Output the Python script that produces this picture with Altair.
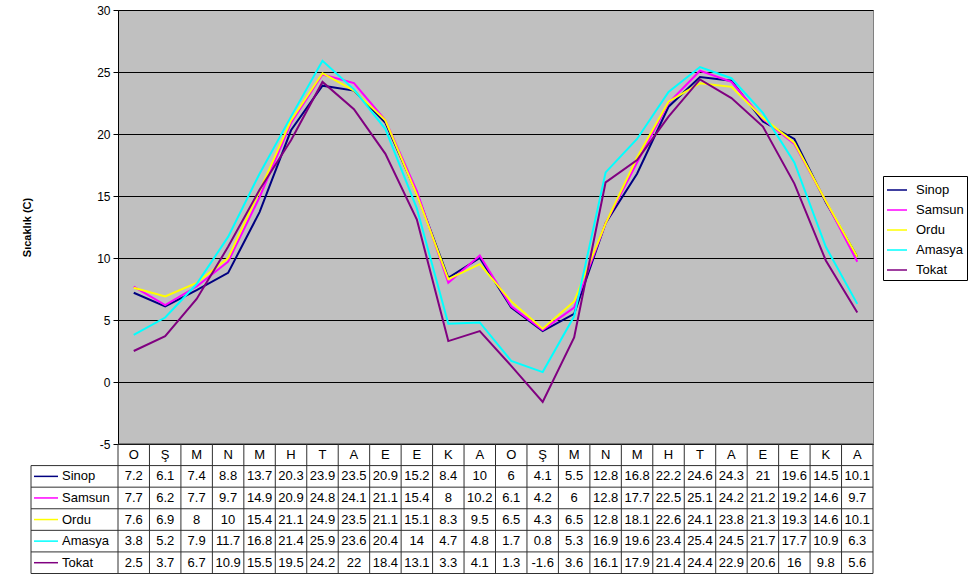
import altair as alt
import pandas as pd

# Monthly mean temperatures (C) for two consecutive years
months = ["O", "Ş", "M", "N", "M", "H", "T", "A", "E", "E", "K", "A",
          "O", "Ş", "M", "N", "M", "H", "T", "A", "E", "E", "K", "A"]
series_names = ["Sinop", "Samsun", "Ordu", "Amasya", "Tokat"]
series_colors = ["#000080", "#FF00FF", "#FFFF00", "#00FFFF", "#800080"]

sinop = [7.2, 6.1, 7.4, 8.8, 13.7, 20.3, 23.9, 23.5, 20.9, 15.2, 8.4, 10,
         6, 4.1, 5.5, 12.8, 16.8, 22.2, 24.6, 24.3, 21, 19.6, 14.5, 10.1]
samsun = [7.7, 6.2, 7.7, 9.7, 14.9, 20.9, 24.8, 24.1, 21.1, 15.4, 8, 10.2,
          6.1, 4.2, 6, 12.8, 17.7, 22.5, 25.1, 24.2, 21.2, 19.2, 14.6, 9.7]
ordu = [7.6, 6.9, 8, 10, 15.4, 21.1, 24.9, 23.5, 21.1, 15.1, 8.3, 9.5,
        6.5, 4.3, 6.5, 12.8, 18.1, 22.6, 24.1, 23.8, 21.3, 19.3, 14.6, 10.1]
amasya = [3.8, 5.2, 7.9, 11.7, 16.8, 21.4, 25.9, 23.6, 20.4, 14, 4.7, 4.8,
          1.7, 0.8, 5.3, 16.9, 19.6, 23.4, 25.4, 24.5, 21.7, 17.7, 10.9, 6.3]
tokat = [2.5, 3.7, 6.7, 10.9, 15.5, 19.5, 24.2, 22, 18.4, 13.1, 3.3, 4.1,
         1.3, -1.6, 3.6, 16.1, 17.9, 21.4, 24.4, 22.9, 20.6, 16, 9.8, 5.6]
series_values = [sinop, samsun, ordu, amasya, tokat]

y_ticks = [-5, 0, 5, 10, 15, 20, 25, 30]

# Layout
W, H = 755, 434
NCOL = len(months)
COLW = W / NCOL
LABEL_COL_PX = 87                      # width of the series-name column
XL = -0.5 - LABEL_COL_PX / COLW        # left edge of the name column (x units)
TABLE_TOP, TABLE_BOTTOM = H, H + 129.5
FONT = "Liberation Sans"
GRID = "#303030"
TABLE_FS = 13

xscale = alt.Scale(domain=[-0.5, NCOL - 0.5], nice=False, zero=False)
rscale = alt.Scale(domain=[0, 6], range=[TABLE_TOP, TABLE_BOTTOM], nice=False, zero=False)

# Long table of values
rows = []
for name, vals in zip(series_names, series_values):
    for i, v in enumerate(vals):
        rows.append({"series": name, "i": i, "v": v})
df = pd.DataFrame(rows)
df["r"] = df["series"].map({n: k + 1.5 for k, n in enumerate(series_names)})
df["label"] = df["v"].map(lambda v: f"{v:g}")

color = alt.Color(
    "series:N",
    scale=alt.Scale(domain=series_names, range=series_colors),
    legend=alt.Legend(
        title=None, orient="none", legendX=765, legendY=166,
        symbolType="stroke", symbolSize=400, symbolStrokeWidth=1.5,
        labelFont=FONT, labelFontSize=13, labelColor="black",
        rowPadding=2, padding=3, strokeColor="black", fillColor="white",
        labelOffset=8,
    ),
)

lines = alt.Chart(df).mark_line(strokeWidth=2).encode(
    x=alt.X("i:Q", scale=xscale, axis=None),
    y=alt.Y(
        "v:Q",
        scale=alt.Scale(domain=[-5, 30], nice=False, zero=False),
        axis=alt.Axis(
            values=y_ticks, grid=True, gridColor="black", gridOpacity=1,
            domainColor="black", tickColor="black", tickSize=5,
            labelFont=FONT, labelFontSize=12, labelColor="black", labelPadding=3,
            labelExpr="replace(datum.label, '\u2212', '-')",
            title="Sıcaklık (C)", titleFont=FONT, titleFontSize=11,
            titleFontWeight="bold", titleColor="black", titlePadding=64,
        ),
    ),
    color=color,
    order=alt.Order("i:Q"),
)

# Data table below the plot
hdf = pd.DataFrame({"i": list(range(NCOL)), "m": months, "r": [0.5] * NCOL})
header = alt.Chart(hdf).mark_text(font=FONT, fontSize=TABLE_FS, color="black", baseline="middle").encode(
    x=alt.X("i:Q", scale=xscale, axis=None),
    y=alt.Y("r:Q", scale=rscale, axis=None),
    text="m:N",
)
cells = alt.Chart(df).mark_text(font=FONT, fontSize=TABLE_FS, color="black", baseline="middle").encode(
    x=alt.X("i:Q", scale=xscale, axis=None),
    y=alt.Y("r:Q", scale=rscale, axis=None),
    text="label:N",
)

name_df = pd.DataFrame({
    "series": series_names,
    "r": [k + 1.5 for k in range(len(series_names))],
    "x": [XL + 3 / COLW] * len(series_names),
    "x2": [XL + 27 / COLW] * len(series_names),
    "xt": [XL + 31 / COLW] * len(series_names),
})
keys = alt.Chart(name_df).mark_rule(strokeWidth=1.5).encode(
    x=alt.X("x:Q", scale=xscale, axis=None),
    x2="x2:Q",
    y=alt.Y("r:Q", scale=rscale, axis=None),
    color=alt.Color("series:N", scale=alt.Scale(domain=series_names, range=series_colors), legend=None),
)
names = alt.Chart(name_df).mark_text(font=FONT, fontSize=TABLE_FS, color="black", align="left", baseline="middle").encode(
    x=alt.X("xt:Q", scale=xscale, axis=None),
    y=alt.Y("r:Q", scale=rscale, axis=None),
    text="series:N",
)

hl = pd.DataFrame({
    "x": [-0.5] + [XL] * 6,
    "x2": [NCOL - 0.5] * 7,
    "r": list(range(7)),
})
vl = pd.DataFrame({
    "x": [k - 0.5 for k in range(NCOL + 1)] + [XL],
    "r": [0] * (NCOL + 1) + [1],
    "r2": [6] * (NCOL + 2),
})
hrules = alt.Chart(hl).mark_rule(color=GRID, strokeWidth=1).encode(
    x=alt.X("x:Q", scale=xscale, axis=None),
    x2="x2:Q",
    y=alt.Y("r:Q", scale=rscale, axis=None),
)
vrules = alt.Chart(vl).mark_rule(color=GRID, strokeWidth=1).encode(
    x=alt.X("x:Q", scale=xscale, axis=None),
    y=alt.Y("r:Q", scale=rscale, axis=None),
    y2="r2:Q",
)

table = alt.layer(hrules, vrules, header, cells, keys, names)

chart = (
    alt.layer(lines, table)
    .resolve_scale(y="independent", color="independent")
    .properties(
        width=W, height=H,
        autosize=alt.AutoSizeParams(type="none"),
        padding={"left": 118, "top": 10, "right": 968 - 118 - W, "bottom": 577 - 10 - H},
        background="white",
    )
    .configure_view(fill="#C0C0C0", stroke="#808080", strokeWidth=1)
)

chart.save("out.html", embed_options={"renderer": "svg", "actions": False})
